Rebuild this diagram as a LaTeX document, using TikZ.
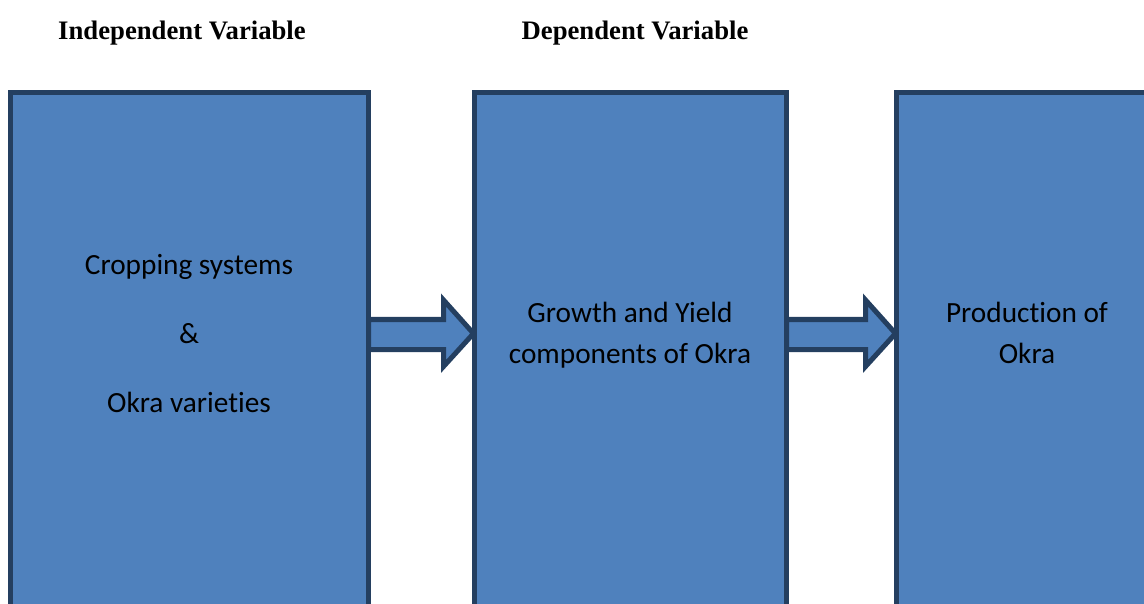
\documentclass[tikz,border=0pt]{standalone}
\usepackage{fontspec}
\setmainfont{Liberation Serif}
\newfontfamily\boxfont[Ligatures=NoCommon]{Carlito}
\usetikzlibrary{calc}
\definecolor{boxfill}{HTML}{4F81BD}
\definecolor{boxline}{HTML}{243F60}
\begin{document}
\begin{tikzpicture}[x=1pt,y=-1pt,
  blk/.style={draw=boxline,fill=boxfill,line width=5pt,line join=miter},
  panel/.style={blk,anchor=north west,minimum height=560pt,inner sep=0pt},
  lbl/.style={font=\boxfont\fontsize{29.3}{35}\selectfont,text=black,inner sep=0pt,anchor=base},
  ttl/.style={font=\bfseries\fontsize{26.7}{32}\selectfont,text=black,inner sep=0pt,anchor=base}]
\useasboundingbox (0,0) rectangle (1144,604);
\clip (0,0) rectangle (1144,604);
\fill[white] (0,0) rectangle (1144,604);

% titles
\node[ttl] (t1) at (182,40) {Independent Variable};
\node[ttl] (t2) at (635,40) {Dependent Variable};

% boxes
\node[panel,minimum width=358pt] (b1) at (8,90) {};
\node[panel,minimum width=312pt] (b2) at (472,90) {};
\node[panel,minimum width=261pt] (b3) at (894,90) {};

% block arrows
\draw[blk] let \p1=(b1.east), \p2=(b2.west) in
  (\x1-2.5pt,-319.5pt) -- (\x2-28.5pt,-319.5pt) -- (\x2-28.5pt,-300pt)
  -- (\x2+1.5pt,-333.5pt) -- (\x2-28.5pt,-366.5pt) -- (\x2-28.5pt,-349.5pt)
  -- (\x1-2.5pt,-349.5pt) -- cycle;
\draw[blk] let \p1=(b2.east), \p2=(b3.west) in
  (\x1-2.5pt,-319.5pt) -- (\x2-28.5pt,-319.5pt) -- (\x2-28.5pt,-300pt)
  -- (\x2+1.5pt,-333.5pt) -- (\x2-28.5pt,-366.5pt) -- (\x2-28.5pt,-349.5pt)
  -- (\x1-2.5pt,-349.5pt) -- cycle;

% box texts
\node[lbl] (l1a) at (189,275) {Cropping systems};
\node[lbl] (l1b) at (189,344) {\&};
\node[lbl] (l1c) at (189,412) {Okra varieties};
\node[lbl] (l2a) at (630,323) {Growth and Yield};
\node[lbl] (l2b) at (630,363) {components of Okra};
\node[lbl] (l3a) at (1027,323) {Production of};
\node[lbl] (l3b) at (1027,363) {Okra};
\end{tikzpicture}
\end{document}
